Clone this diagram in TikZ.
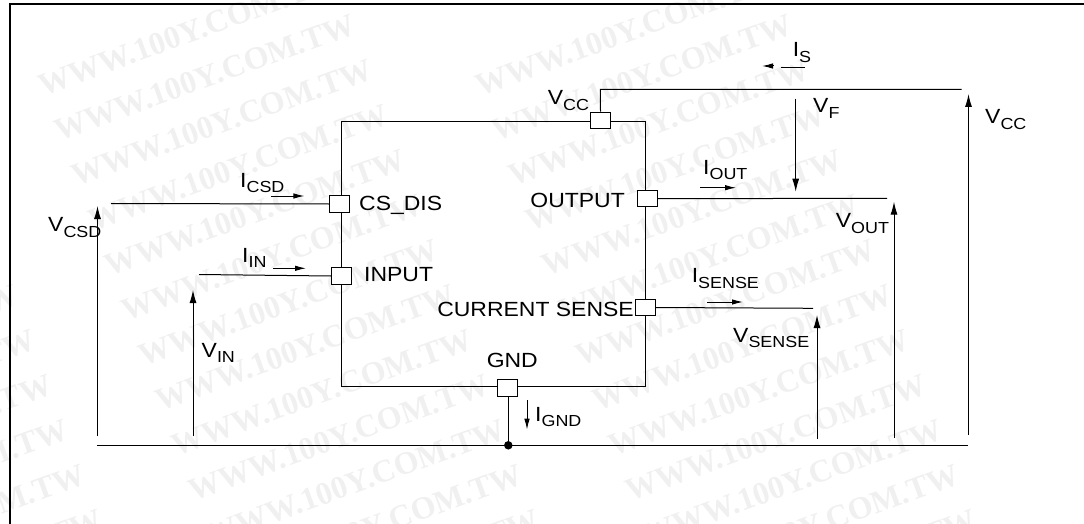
\documentclass[tikz,border=0pt]{standalone}
\usepackage{fontspec}
\setmainfont[FakeStretch=1.12]{Liberation Sans}
\newfontfamily\wmfont[BoldFont=Liberation Serif Bold]{Liberation Serif}
\usetikzlibrary{arrows.meta}
\definecolor{wmgray}{HTML}{F0F0F0}
\newcommand{\lab}[2]{#1\raisebox{-5.5pt}{\fontsize{16}{16}\selectfont #2}}
\tikzset{
  x=1pt,y=-1pt,
  wire/.style={line width=1pt,black},
  frameline/.style={line width=2pt,black},
  arrowline/.style={wire,-{Latex[length=13pt,width=7pt]}},
  curarrow/.style={wire,-{Latex[length=11pt,width=5.5pt]}},
  chip/.style={draw,line width=1pt,inner sep=0pt,fill=none},
  pin/.style={draw,line width=1pt,fill=white,inner sep=0pt,minimum width=20pt,minimum height=16.5pt},
  txt/.style={inner sep=0pt,anchor=base west,font=\fontsize{20.5}{20.5}\selectfont},
  txtr/.style={txt,anchor=base east},
  wm/.style={inner sep=0pt,anchor=base east,rotate=20,text=wmgray,font=\wmfont\bfseries\fontsize{32}{32}\selectfont},
}
\begin{document}
\begin{tikzpicture}
\useasboundingbox (0,0) rectangle (1084,524);
% watermark
\begin{scope}
\clip (0,0) rectangle (1084,524);
\foreach \c in {0,1,2}{
  \foreach \k in {-10,...,3}{
    \node[wm] (wm\c\k) at ({945-437*\c+16.7*\k},{438+45*\k}) {WWW.100Y.COM.TW};
  }
}
\end{scope}
% frame
\coordinate (fa) at (10,524);
\coordinate (fb) at (10,4);
\coordinate (fc) at (1084,4);
\draw[frameline] (fa) -- (fb) -- (fc);
% chip
\node[chip,minimum width=304pt,minimum height=265.5pt] (ic) at (493.5,254.2) {};
% free ends
\coordinate (csdend) at (111,203.5);
\coordinate (inend) at (199,274.5);
\coordinate (vcccorner) at (600.4,89.3);
\coordinate (vccend) at (961.6,89.3);
\coordinate (outend) at (887,198.3);
\coordinate (senseend) at (813,308.3);
\coordinate (busl) at (97,445.3);
\coordinate (busr) at (968,445.3);
\node[circle,fill=black,inner sep=0pt,minimum size=8.5pt] (dot) at (508.3,445.3) {};
% wires
\draw[wire] (busl) -- (busr);
\node[pin] (pcsd) at (339.5,204) {};
\node[pin] (pin) at (341.5,276) {};
\node[pin] (pvcc) at (600.5,120.3) {};
\node[pin] (pout) at (647.5,198.7) {};
\node[pin] (psense) at (645.5,307.5) {};
\node[pin] (pgnd) at (507,388) {};
\draw[wire] (csdend) -- (pcsd.west);
\draw[wire] (inend) -- (pin.west);
\draw[wire] (pvcc.north) -- (vcccorner) -- (vccend);
\draw[wire] (pout.east) -- (outend);
\draw[wire] (psense.east) -- (senseend);
\draw[wire] (pgnd.south -| dot) -- (dot);
% voltage arrows
\foreach \n/\x/\a/\b in {vcsd/97.5/436/206, vin/193/436/290, vsense/817/438.7/315, vout/894/437.7/201.7, vccr/968.5/434.7/94, vf/795.7/99/191.7}{
  \coordinate (\n a) at (\x,\a);
  \coordinate (\n b) at (\x,\b);
  \draw[arrowline] (\n a) -- (\n b);
}
% current arrows
\foreach \n/\xa/\ya/\xb/\yb in {icsd/271/196/304.4/196, iin/273/268.3/306/268.3, iout/700/187.7/736/187.7, isense/707/302/743/302, ignd/527/400/527/429.7}{
  \coordinate (\n a) at (\xa,\ya);
  \coordinate (\n b) at (\xb,\yb);
  \draw[curarrow] (\n a) -- (\n b);
}
\coordinate (isa) at (805,67.3);
\coordinate (isb) at (781,67.3);
\coordinate (isc) at (773.5,66);
\coordinate (isd) at (762,66);
\draw[wire] (isa) -- (isb);
\draw[curarrow] (isc) -- (isd);
% pin labels
\node[txt] (tcsd) at (359,210) {CS\_DIS};
\node[txtr] (tout) at (625,207) {OUTPUT};
\node[txt] (tin) at (364,281) {INPUT};
\node[txtr] (tsense) at (634,316) {CURRENT SENSE};
\node[txt] (tgnd) at (486.6,367) {GND};
% quantity labels
\node[txt] (licsd) at (240,187) {\lab{I}{CSD}};
\node[txt] (lvcsd) at (48,231.7) {\lab{V}{CSD}};
\node[txt] (liin) at (242,262) {\lab{I}{IN}};
\node[txt] (lvin) at (201.5,357) {\lab{V}{IN}};
\node[txt] (lvcc) at (547.6,105) {\lab{V}{CC}};
\node[txt] (lis) at (792.6,56.7) {\lab{I}{S}};
\node[txt] (lvf) at (813,112.7) {\lab{V}{F}};
\node[txt] (lvccr) at (985,124) {\lab{V}{CC}};
\node[txt] (liout) at (703,174) {\lab{I}{OUT}};
\node[txt] (lvout) at (835.6,227.7) {\lab{V}{OUT}};
\node[txt] (lisense) at (691.6,282.7) {\lab{I}{SENSE}};
\node[txt] (lvsense) at (733,342) {\lab{V}{SENSE}};
\node[txt] (ligbased) at (535,421) {\lab{I}{GND}};
\end{tikzpicture}
\end{document}
